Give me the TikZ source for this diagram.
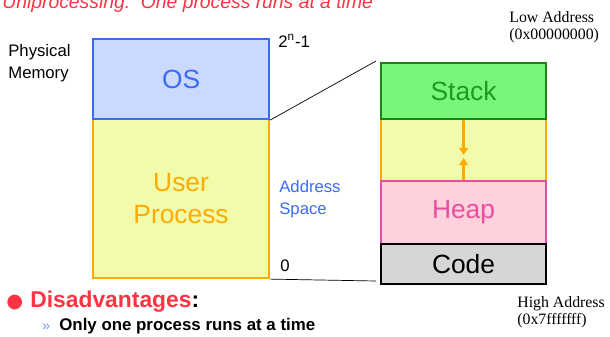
\documentclass[tikz,border=0pt]{standalone}
\usepackage{fontspec}
\setmainfont{Liberation Sans}
\newfontfamily\timesfont{Liberation Serif}
\newfontfamily\symfont{DejaVu Sans}
\usetikzlibrary{arrows.meta}

\definecolor{osblue}{HTML}{3A6BF5}
\definecolor{osfill}{HTML}{CCD9FF}
\definecolor{userorange}{HTML}{FFAA00}
\definecolor{userfill}{HTML}{F1FBA9}
\definecolor{stackgreen}{HTML}{1E9A1E}
\definecolor{stackfill}{HTML}{77F77A}
\definecolor{heappink}{HTML}{E64FA0}
\definecolor{heapfill}{HTML}{FFD1DC}
\definecolor{codefill}{HTML}{D6D6D6}
\definecolor{titlered}{HTML}{FF3344}

\tikzset{
  membox/.style={draw, line width=1.2pt, inner sep=0pt, font=\fontsize{15}{18}\selectfont, align=center},
  labeltext/.style={font=\fontsize{9.5}{12.5}\selectfont, align=left, inner sep=0pt},
  addrtext/.style={font=\timesfont\fontsize{9}{10}\selectfont, align=left, inner sep=0pt},
}

\begin{document}
\begin{tikzpicture}[x=0.02cm,y=-0.02cm]
\useasboundingbox (0,0) rectangle (610,336);

% title, cut at the top
\node[anchor=base west, inner sep=0pt, text=titlered, font=\itshape\fontsize{11}{13}\selectfont] (title) at (2,8.5) {Uniprocessing:\ \ One process runs at a time};

% physical memory
\node[labeltext, anchor=north west] (phys) at (8,44) {Physical\\Memory};
\node[membox, anchor=north west, minimum width=176*0.02cm, minimum height=159*0.02cm, draw=userorange, fill=userfill, text=userorange] (user) at (92,118) {User\\Process};
\node[membox, anchor=north west, minimum width=176*0.02cm, minimum height=80*0.02cm, draw=osblue, fill=osfill, text=osblue] (os) at (92,38) {OS};
\node[labeltext, anchor=north west] (top) at (278,34) {2\textsuperscript{n}-1};
\node[labeltext, anchor=north west, text=osblue] (aspace) at (279,180) {Address\\Space};
\node[labeltext, anchor=north west] (zero) at (280,259) {0};

% address space of the process
\node[membox, anchor=north west, minimum width=165*0.02cm, minimum height=62*0.02cm, draw=userorange, fill=userfill] (gap) at (380,118) {};
\node[membox, anchor=north west, minimum width=165*0.02cm, minimum height=56*0.02cm, draw=stackgreen!85!black, fill=stackfill, text=stackgreen] (stack) at (380,62) {Stack};
\node[membox, anchor=north west, minimum width=165*0.02cm, minimum height=63*0.02cm, draw=heappink, fill=heapfill, text=heappink] (heap) at (380,180) {Heap};
\node[membox, anchor=north west, minimum width=165*0.02cm, minimum height=40*0.02cm, draw=black, fill=codefill] (code) at (380,243) {Code};

\coordinate (sdown) at (stack.south |- 0,155);
\coordinate (hup) at (heap.north |- 0,158);
\draw[userorange, line width=1.2pt, -{Triangle[length=4pt,width=5pt]}] (stack.south) -- (sdown);
\draw[userorange, line width=1.2pt, -{Triangle[length=4pt,width=5pt]}] (heap.north) -- (hup);

\coordinate (linetop) at (376,61);
\coordinate (linebot) at (376,281);
\draw[thin] (os.south east) -- (linetop);
\draw[thin] (user.south east) -- (linebot);

\node[addrtext, anchor=north west] (low) at (509,11) {Low Address\\(0x00000000)};
\node[addrtext, anchor=north west] (high) at (517,296) {High Address\\(0x7fffffff)};

% bullets
\node[anchor=base west, inner sep=0pt, text=titlered, font=\symfont\fontsize{11}{13}\selectfont] (dot) at (6,307) {●};
\node[anchor=base west, inner sep=0pt, font=\bfseries\fontsize{13}{15}\selectfont] (dis) at (30,307) {\textcolor{titlered}{Disadvantages}:};
\node[anchor=base west, inner sep=0pt, text=osblue!70, font=\fontsize{8}{9}\selectfont] (mark) at (42,330) {»};
\node[anchor=base west, inner sep=0pt, font=\bfseries\fontsize{9.6}{11}\selectfont] (only) at (59,330) {Only one process runs at a time};
\end{tikzpicture}
\end{document}
